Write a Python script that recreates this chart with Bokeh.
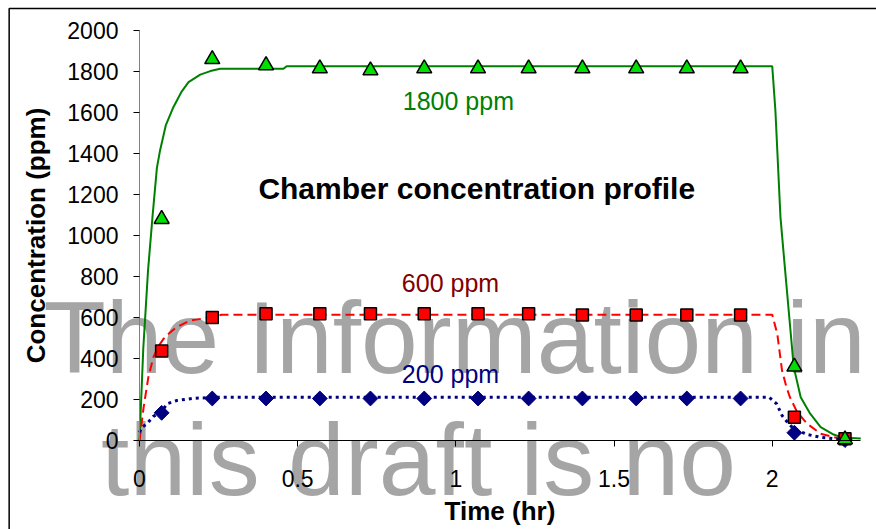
from bokeh.plotting import figure
from bokeh.models import Range1d, FixedTicker
from bokeh.core.properties import value
from bokeh.embed import file_html
from bokeh.resources import INLINE

# ---------------- data ----------------
sample_time = [0.07, 0.23, 0.4, 0.57, 0.73, 0.9, 1.07, 1.23, 1.4, 1.57, 1.73, 1.9, 2.07, 2.23]
meas_1800 = [1080, 1860, 1830, 1815, 1805, 1815, 1815, 1815, 1815, 1815, 1815, 1815, 360, 5]
meas_600 = [436, 600, 618, 618, 618, 618, 618, 618, 612, 612, 612, 612, 114, 8]
meas_200 = [135, 205, 205, 205, 205, 205, 205, 205, 205, 205, 205, 205, 38, 2]

model_1800_t = [0.0, 0.012, 0.027, 0.041, 0.055, 0.065, 0.083, 0.107, 0.132, 0.155, 0.192,
                0.224, 0.255, 0.455, 0.465, 2.0, 2.01, 2.026, 2.039, 2.052, 2.068, 2.09,
                2.12, 2.153, 2.194, 2.22, 2.28]
model_1800_c = [0, 450, 830, 1090, 1330, 1415, 1537, 1626, 1699, 1748, 1785,
                1802, 1813, 1813, 1826, 1826, 1610, 1090, 860, 634, 358, 211,
                131, 65, 29, 15, 10]

model_600_t = [0.0, 0.013, 0.028, 0.044, 0.06, 0.076, 0.095, 0.118, 0.14, 0.16, 0.213, 0.26,
               2.0, 2.016, 2.031, 2.045, 2.056, 2.079, 2.111, 2.153, 2.216, 2.25]
model_600_c = [0, 162, 309, 406, 460, 496, 525, 553, 570, 585, 598, 613,
               613, 520, 341, 260, 211, 138, 81, 33, 8, 5]

model_200_t = [0.0, 0.008, 0.023, 0.044, 0.07, 0.087, 0.118, 0.171, 0.25,
               1.99, 2.014, 2.031, 2.05, 2.068, 2.111, 2.153, 2.22]
model_200_c = [40, 65, 81, 118, 140, 179, 195, 206, 211,
               211, 179, 122, 85, 57, 29, 16, 5]

x_ticks = [0, 0.5, 1, 1.5, 2]
x_tick_labels = ["0", "0.5", "1", "1.5", "2"]
y_ticks = [0, 200, 400, 600, 800, 1000, 1200, 1400, 1600, 1800, 2000]

watermark_lines = ["The Information in", "this draft is no"]

FONT = "Liberation Sans"

p = figure(width=876, height=529, output_backend="svg", toolbar_location=None,
           x_range=Range1d(0, 2.279), y_range=Range1d(0, 2000),
           min_border_left=139, min_border_right=16, min_border_top=30, min_border_bottom=89)
p.background_fill_color = "white"
p.border_fill_color = "white"
p.outline_line_color = None
p.xgrid.grid_line_color = None
p.ygrid.grid_line_color = None

# watermark, drawn at "guide" level (not clipped to the frame); data marks come later
wm1 = p.text(x=[0.996], y=[502], text=[watermark_lines[0]], text_font=value(FONT),
             text_font_size="102px", text_color="#a5a5a5", text_align="center",
             text_baseline="alphabetic")
wm2 = p.text(x=[0.882], y=[182], text=[watermark_lines[1]], text_font=value(FONT),
             text_font_size="102px", text_color="#a5a5a5", text_align="center",
             text_baseline="top")
# outer border of the chart area
bd = p.quad(left=[-0.412], right=[5], top=[2107], bottom=[-3000],
            fill_color=None, line_color="black", line_width=1.5)
for r in (wm1, wm2, bd):
    r.level = "guide"

rs = []
# model curves
rs.append(p.line(model_1800_t, model_1800_c, line_color="#008000", line_width=2))
rs.append(p.line(model_600_t, model_600_c, line_color="#ff0000", line_width=2, line_dash="9 5"))
rs.append(p.line(model_200_t, model_200_c, line_color="#000080", line_width=3, line_dash="3 4"))

# measurements
rs.append(p.scatter(sample_time, meas_200, marker="square", angle=0.7854, size=10.5,
                    fill_color="#000080", line_color="#000080", line_width=1))
rs.append(p.scatter(sample_time, meas_600, marker="square", size=12, fill_color="#ff0000",
                    line_color="black", line_width=1.5))
rs.append(p.scatter(sample_time, meas_1800, marker="triangle", size=15, fill_color="#00e000",
                    line_color="black", line_width=1.5))

# annotations
rs.append(p.text(x=[1.008], y=[1658], text=["1800 ppm"], text_color="#008000",
                 text_font=value(FONT), text_font_size="25px", text_align="center",
                 text_baseline="middle"))
rs.append(p.text(x=[0.983], y=[766], text=["600 ppm"], text_color="#800000",
                 text_font=value(FONT), text_font_size="25px", text_align="center",
                 text_baseline="middle"))
rs.append(p.text(x=[0.983], y=[322], text=["200 ppm"], text_color="#000080",
                 text_font=value(FONT), text_font_size="25px", text_align="center",
                 text_baseline="middle"))
rs.append(p.text(x=[1.066], y=[1229], text=["Chamber concentration profile"],
                 text_color="black", text_font=value(FONT), text_font_style="bold",
                 text_font_size="30px", text_align="center", text_baseline="middle"))
for r in rs:
    r.level = "annotation"

# axes
xa = p.xaxis[0]
xa.level = "annotation"
xa.ticker = FixedTicker(ticks=x_ticks)
xa.major_label_overrides = {t: l for t, l in zip(x_ticks, x_tick_labels)}
xa.minor_tick_line_color = None
xa.major_tick_in = 0
xa.major_tick_out = 6
xa.axis_line_color = "black"
xa.major_tick_line_color = "black"
xa.major_label_text_font = FONT
xa.major_label_text_font_size = "23px"
xa.major_label_text_color = "black"
xa.major_label_standoff = 23
xa.axis_label = "Time (hr)"
xa.axis_label_text_font = FONT
xa.axis_label_text_font_style = "bold"
xa.axis_label_text_font_size = "26px"
xa.axis_label_text_color = "black"
xa.axis_label_standoff = 6

ya = p.yaxis[0]
ya.level = "annotation"
ya.ticker = FixedTicker(ticks=y_ticks)
ya.minor_tick_line_color = None
ya.major_tick_in = 0
ya.major_tick_out = 6
ya.axis_line_color = "#808080"
ya.major_tick_line_color = "black"
ya.major_label_text_font = FONT
ya.major_label_text_font_size = "23px"
ya.major_label_text_color = "black"
ya.major_label_standoff = 15
ya.axis_label = "Concentration (ppm)"
ya.axis_label_text_font = FONT
ya.axis_label_text_font_style = "bold"
ya.axis_label_text_font_size = "26px"
ya.axis_label_text_color = "black"
ya.axis_label_standoff = 13

open("out.html", "w").write(file_html(p, INLINE))
